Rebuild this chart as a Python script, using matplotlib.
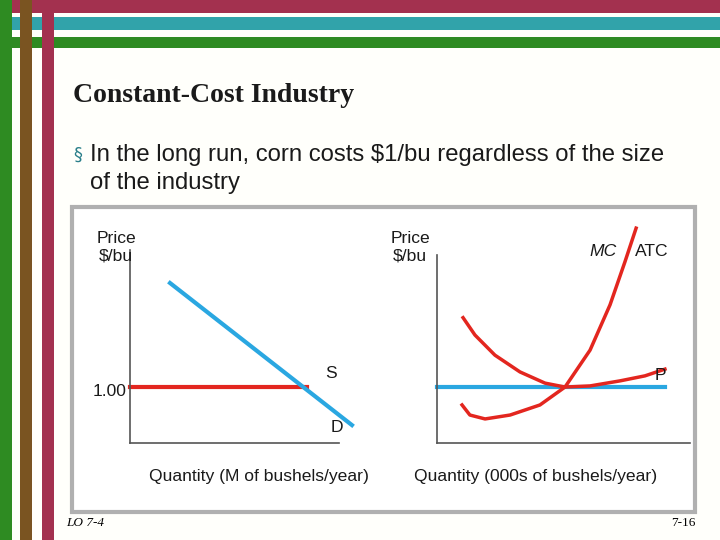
import matplotlib
matplotlib.use("Agg")
import matplotlib.pyplot as plt
from matplotlib.patches import Rectangle

W, H = 720, 540
# data
supply_q = [0.0, 7.7]
supply_p = [1.00, 1.00]
demand_q = [1.74, 9.65]
demand_p = [2.86, 0.32]
p_line_q = [0.0, 9.0]
p_line_p = [1.00, 1.00]
mc_q = [0.99, 1.30, 1.90, 2.89, 4.07, 5.06, 6.05, 6.84, 7.43, 7.87]
mc_p = [0.68, 0.50, 0.43, 0.50, 0.68, 1.00, 1.66, 2.47, 3.24, 3.84]
atc_q = [1.03, 1.50, 2.29, 3.28, 4.27, 5.06, 6.05, 7.23, 8.22, 9.01]
atc_p = [2.24, 1.93, 1.57, 1.27, 1.07, 1.00, 1.02, 1.11, 1.20, 1.32]

RED = "#e3261f"
BLUE = "#2aa7e1"

fig = plt.figure(figsize=(7.2, 5.4), dpi=100)
fig.patch.set_facecolor("#fffffb")

def fx(px): return px / W
def fy(py): return 1 - py / H

def rect(x0, y0, x1, y1, color, **kw):
    fig.patches.append(Rectangle((fx(x0), fy(y1)), fx(x1) - fx(x0), fy(y0) - fy(y1),
                                 transform=fig.transFigure, facecolor=color, edgecolor="none",
                                 zorder=-2, **kw))

# decorative stripes
rect(0, 0, 720, 13, "#a3314f")
rect(0, 17, 720, 30, "#31a3aa")
rect(0, 37, 720, 48, "#2e8b22")
rect(0, 0, 12, 540, "#2e8b22")
rect(20, 0, 32, 540, "#7a5421")
rect(42, 0, 54, 540, "#a3314f")

# chart frame
fig.patches.append(Rectangle((fx(72), fy(512)), fx(695) - fx(72), fy(207) - fy(512),
                             transform=fig.transFigure, facecolor="white", edgecolor="#b0b0b0",
                             lw=3, zorder=-1))

fig.text(fx(73), fy(96), "Constant-Cost Industry", family="Liberation Serif", weight="bold",
         fontsize=20, color="#1a1a1a", va="center")
fig.text(fx(73), fy(155), "§", fontsize=13, color="#2a7f8a", va="center")
fig.text(fx(90), fy(155), "In the long run, corn costs $1/bu regardless of the size",
         family="Liberation Sans", fontsize=17.2, va="center", color="#1a1a1a")
fig.text(fx(90), fy(183), "of the industry", family="Liberation Sans", fontsize=17.2,
         va="center", color="#1a1a1a")
fig.text(fx(66), fy(523), "LO 7-4", family="Liberation Serif", style="italic", fontsize=9.5, va="center")
fig.text(fx(695), fy(523), "7-16", family="Liberation Serif", fontsize=9.5, va="center", ha="right")

def mkax(x0, x1, y0, y1):
    ax = fig.add_axes([fx(x0), fy(y1), fx(x1) - fx(x0), fy(y0) - fy(y1)])
    ax.set_facecolor("none")
    ax.set_zorder(2)
    for s in ["top", "right"]:
        ax.spines[s].set_visible(False)
    for s in ["left", "bottom"]:
        ax.spines[s].set_color("#555555")
        ax.spines[s].set_linewidth(1.2)
    ax.set_xticks([]); ax.set_yticks([])
    ax.set_xlim(0, 10); ax.set_ylim(0, 3.45)
    return ax

ax1 = mkax(130, 360, 250, 443)
ax1.spines["bottom"].set_bounds(0, 9.1)
ax1.plot(supply_q, supply_p, color=RED, lw=3, clip_on=False)
ax1.plot(demand_q, demand_p, color=BLUE, lw=3, clip_on=False)

ax2 = mkax(437, 690, 255, 443)
ax2.set_ylim(0, 3.36)
ax2.plot(p_line_q, p_line_p, color=BLUE, lw=3, clip_on=False)
ax2.plot(mc_q, mc_p, color=RED, lw=2.5, clip_on=False)
ax2.plot(atc_q, atc_p, color=RED, lw=2.5, clip_on=False)

tk = dict(family="Liberation Sans", fontsize=12.6, color="#1a1a1a")
fig.text(fx(116), fy(247), "Price\n$/bu", ha="center", va="center", **tk)
fig.text(fx(410), fy(247), "Price\n$/bu", ha="center", va="center", **tk)
fig.text(fx(110), fy(392), "1.00", ha="center", va="center", **tk)
fig.text(fx(331), fy(374), "S", ha="center", va="center", **tk)
fig.text(fx(337), fy(427), "D", ha="center", va="center", **tk)
fig.text(fx(603), fy(251), "MC", ha="center", va="center", style="italic", **tk)
fig.text(fx(652), fy(251), "ATC", ha="center", va="center", **tk)
fig.text(fx(660), fy(375), "P", ha="center", va="center", **tk)
fig.text(fx(259), fy(477), "Quantity (M of bushels/year)", ha="center", va="center", **tk)
fig.text(fx(536), fy(477), "Quantity (000s of bushels/year)", ha="center", va="center", **tk)

fig.savefig("out.png", dpi=100, facecolor=fig.get_facecolor())
